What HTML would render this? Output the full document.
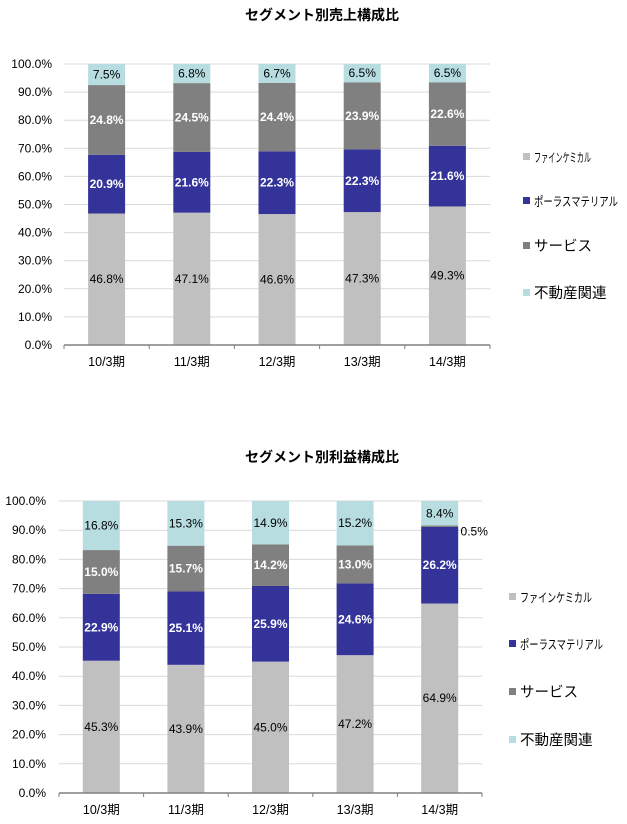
<!DOCTYPE html>
<html><head><meta charset="utf-8"><style>
body{margin:0;background:#fff;width:627px;height:824px;overflow:hidden}
svg{display:block;font-family:"Liberation Sans","Noto Sans CJK JP",sans-serif}
</style></head><body>
<svg id="s" width="627" height="824"></svg>
<script>
const categories=["10/3期","11/3期","12/3期","13/3期","14/3期"];
const seriesNames=["ファインケミカル","ポーラスマテリアル","サービス","不動産関連"];
const colors=["#c0c0c0","#333399","#808080","#b7dde1"];
const textColors=["#000","#fff","#fff","#000"];
const salesFine=[46.8,47.1,46.6,47.3,49.3];
const salesPorous=[20.9,21.6,22.3,22.3,21.6];
const salesService=[24.8,24.5,24.4,23.9,22.6];
const salesRealty=[7.5,6.8,6.7,6.5,6.5];
const profitFine=[45.3,43.9,45.0,47.2,64.9];
const profitPorous=[22.9,25.1,25.9,24.6,26.2];
const profitService=[15.0,15.7,14.2,13.0,0.5];
const profitRealty=[16.8,15.3,14.9,15.2,8.4];
const yTicks=[0,10,20,30,40,50,60,70,80,90,100];
const NS="http://www.w3.org/2000/svg";
const svg=document.getElementById('s');
function mk(t,a,p){const e=document.createElementNS(NS,t);for(const k in a)e.setAttribute(k,a[k]);(p||svg).appendChild(e);return e;}
function chart(cfg,series){
  const g=mk('g',{});
  
  
  const y=v=>cfg.y0-(cfg.y0-cfg.y100)*v/100;
  const cw=(cfg.x1-cfg.x0)/categories.length;
  const x=i=>cfg.x0+cw*(i+0.5);
  const t=mk('text',{x:322,y:cfg.ty,'text-anchor':'middle','font-size':14,'font-weight':'bold'},g);
  t.textContent=cfg.title;
  
  
  yTicks.forEach(v=>{
    const l=mk('line',{x1:cfg.x0,x2:cfg.gx,y1:y(v),y2:y(v),stroke:'#d9d9d9','stroke-width':1},g);
    
    
    const tl=mk('text',{x:cfg.lx,y:y(v)+4,'text-anchor':'end','font-size':12},g);
    tl.textContent=v.toFixed(1)+'%';
    
    
  });
  categories.forEach((c,i)=>{
    let acc=0;
    series.forEach((arr,s)=>{
      const v=arr[i];
      const r=mk('rect',{x:x(i)-cfg.bw/2,y:y(acc+v),width:cfg.bw,height:y(acc)-y(acc+v),fill:colors[s]},g);
      
      
      const lab=mk('text',{'font-size':12,'font-weight':textColors[s]=='#fff'?'bold':'normal',fill:textColors[s],'text-anchor':'middle'},g);
      if(v<3){lab.setAttribute('x',x(i)+cfg.bw/2+16);lab.setAttribute('y',y(acc+v)+10);lab.setAttribute('fill','#000');lab.setAttribute('font-weight','normal');}
      else{lab.setAttribute('x',x(i));lab.setAttribute('y',y(acc+v/2)+4);}
      lab.textContent=v.toFixed(1)+'%';
      
      
      acc+=v;
    });
    const cl=mk('text',{x:x(i),y:cfg.y0+21,'text-anchor':'middle','font-size':12.5},g);
    cl.textContent=c;
    
    
  });
  const ax=mk('line',{x1:cfg.x0,x2:cfg.x1,y1:cfg.y0,y2:cfg.y0,stroke:'#808080','stroke-width':1.5},g);
  
  
  for(let i=0;i<=categories.length;i++){
    const tk=mk('line',{x1:cfg.x0+cw*i,x2:cfg.x0+cw*i,y1:cfg.y0,y2:cfg.y0+4,stroke:'#808080'},g);
    
    
  }
  seriesNames.forEach((n,s)=>{
    const lg=mk('g',{},g);
    
    
    mk('rect',{x:cfg.legx,y:cfg.legy[s]-4,width:7,height:7,fill:colors[s]},lg);
    const lt=mk('text',{x:cfg.legx+11,y:cfg.legy[s]+5,'font-size':s<2?12.5:14.5},lg);
    if(s<2){lt.setAttribute('textLength',cfg.legw[s]);lt.setAttribute('lengthAdjust','spacingAndGlyphs');}
    lt.textContent=n;
  });
}
chart({name:'sales-composition-chart',title:'セグメント別売上構成比',ty:20,x0:64,x1:490,gx:490,y0:345,y100:64,bw:37,lx:52,legx:523,legy:[157,201,246,293],legw:[57,84]},
  [salesFine,salesPorous,salesService,salesRealty]);
chart({name:'profit-composition-chart',title:'セグメント別利益構成比',ty:462,x0:59,x1:482,gx:482,y0:793,y100:501,bw:37,lx:46,legx:509,legy:[597,644,692,740],legw:[72,83]},
  [profitFine,profitPorous,profitService,profitRealty]);
</script>
</body></html>
